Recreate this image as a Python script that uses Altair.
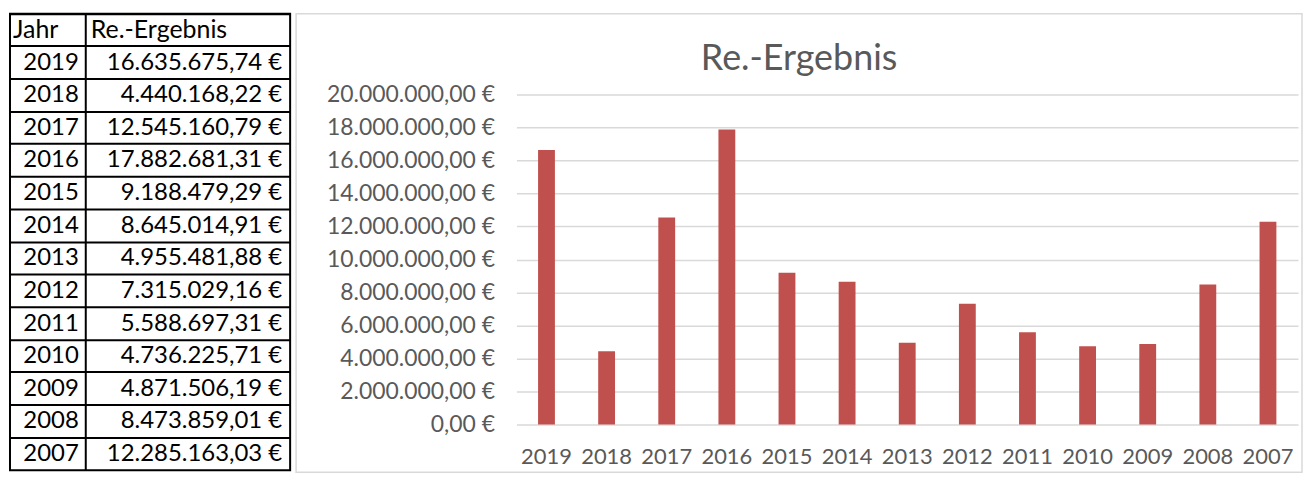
import altair as alt
import pandas as pd

years = [2019, 2018, 2017, 2016, 2015, 2014, 2013, 2012, 2011, 2010, 2009, 2008, 2007]
values = [16635675.74, 4440168.22, 12545160.79, 17882681.31, 9188479.29, 8645014.91,
          4955481.88, 7315029.16, 5588697.31, 4736225.71, 4871506.19, 8473859.01,
          12285163.03]
header = ["Jahr", "Re.-Ergebnis"]
chart_title = "Re.-Ergebnis"
y_ticks = [0, 2000000, 4000000, 6000000, 8000000, 10000000, 12000000,
           14000000, 16000000, 18000000, 20000000]

df = pd.DataFrame({"year": years, "value": values, "row": list(range(1, len(years) + 1))})
hdr = pd.DataFrame({"row": [0], "h1": [header[0]], "h2": [header[1]]})
rows = list(range(len(years) + 1))

FONT = "Lato"
GREY = "#595959"

# ---------------- table ----------------
row_y = alt.Y(
    "row:O",
    scale=alt.Scale(type="band", domain=rows, paddingInner=0, paddingOuter=0),
    axis=alt.Axis(grid=True, gridColor="black", gridWidth=2, gridOpacity=1,
                  labels=False, ticks=False, domain=False, title=None, bandPosition=0),
)

divider = alt.Chart(hdr).mark_rule(color="black", strokeWidth=2).encode(
    x=alt.value(76), y=alt.value(0), y2=alt.value(458)
)
year_txt = alt.Chart(df).mark_text(align="right", baseline="middle", font=FONT,
                                   fontSize=24, color="black").encode(
    y=row_y, x=alt.value(69), text=alt.Text("year:O")
)
val_txt = alt.Chart(df).mark_text(align="right", baseline="middle", font=FONT,
                                  fontSize=24, color="black").encode(
    y=row_y, x=alt.value(273), text=alt.Text("value:Q", format="$,.2f")
)
h1 = alt.Chart(hdr).mark_text(align="left", baseline="middle", font=FONT,
                              fontSize=25, color="black").encode(
    y=row_y, x=alt.value(3), text="h1:N"
)
h2 = alt.Chart(hdr).mark_text(align="left", baseline="middle", font=FONT,
                              fontSize=25, color="black").encode(
    y=row_y, x=alt.value(81), text="h2:N"
)
table = alt.layer(divider, year_txt, val_txt, h1, h2).properties(
    width=281, height=458,
    view=alt.ViewBackground(stroke="black", strokeWidth=2),
)

# ---------------- chart ----------------
bars = alt.Chart(df).mark_bar(color="#C0504D").encode(
    x=alt.X("year:O", sort=years,
            scale=alt.Scale(range=[221, 1005], paddingInner=0.72, paddingOuter=0.36),
            axis=alt.Axis(title=None, labelAngle=0, labelFont=FONT, labelFontSize=22,
                          labelColor=GREY, ticks=False, domain=False, labelPadding=21,
                          grid=False, offset=-47)),
    y=alt.Y("value:Q", scale=alt.Scale(domain=[0, 20000000], range=[412, 81], nice=False),
            axis=alt.Axis(title=None, values=y_ticks, format="$,.2f", grid=True,
                          gridColor="#D9D9D9", gridWidth=1.5, domain=False, ticks=False,
                          labelPadding=22, labelFont=FONT, labelFontSize=23,
                          labelColor=GREY, offset=-221)),
).properties(
    width=1009, height=460,
    title=alt.TitleParams(chart_title, font=FONT, fontSize=36, fontWeight="normal",
                          color=GREY, anchor="middle", frame="group", offset=0, dy=64),
    view=alt.ViewBackground(stroke="#D9D9D9", strokeWidth=1.5),
)

final = alt.hconcat(table, bars, spacing=4).properties(
    padding={"left": 1, "top": 3, "right": 0, "bottom": 0}
).configure(
    font=FONT,
    locale=alt.Locale(number=alt.NumberLocale(decimal=",", thousands=".", grouping=[3],
                                              currency=["", "\u00a0€"])),
)

final.save("out.html", embed_options={"renderer": "svg", "actions": False})
